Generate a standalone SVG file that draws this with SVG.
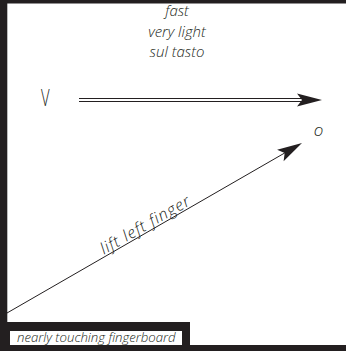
<svg xmlns="http://www.w3.org/2000/svg" width="346" height="351" viewBox="0 0 346 351">
<style>
.frame{fill:#231f20}
.t{font-family:"Open Sans","Liberation Sans",sans-serif;font-style:italic;font-weight:350;fill:#231f20}
.ln{stroke:#231f20;fill:none}
.hd{fill:#231f20}
</style>
<defs>
<path id="head" d="M0,0 L-25,-6.5 L-20,0 L-25,6.5 Z"/>
</defs>
<rect x="0" y="0" width="346" height="351" fill="#ffffff"/>
<g id="frame">
<rect class="frame" x="0" y="0" width="346" height="3.5"/>
<rect class="frame" x="0" y="0" width="7.3" height="351"/>
<rect class="frame" x="0" y="345" width="346" height="6"/>
<rect class="frame" x="0" y="322" width="190" height="29"/>
<rect x="10" y="331" width="172" height="14" fill="#ffffff"/>
</g>
<g id="tempo">
<text class="t" x="177" y="16" font-size="15" text-anchor="middle">fast</text>
<text class="t" x="177" y="36.5" font-size="15" text-anchor="middle">very light</text>
<text class="t" x="177" y="57" font-size="15" text-anchor="middle">sul tasto</text>
</g>
<g id="bowV">
<text x="0" y="0" font-family="'Open Sans','Liberation Sans',sans-serif" font-weight="300" font-size="24" fill="#231f20" transform="translate(41,105.5) scale(0.62,1)">V</text>
</g>
<g id="harmonic">
<text class="t" x="318.5" y="136" font-size="17" text-anchor="middle">o</text>
</g>
<g id="fingerboard-label">
<text class="t" x="17" y="342" font-size="13.2">nearly touching fingerboard</text>
</g>
<g id="connectors">
<path class="ln" stroke-width="1.2" d="M79,98.5 H302 M79,101.5 H302"/>
<use href="#head" class="hd" transform="translate(322,100)"/>
<path class="ln" stroke-width="1" d="M7,313 L285,152.8"/>
<use href="#head" class="hd" transform="translate(302,143) rotate(-30)"/>
<text class="t" font-size="16" letter-spacing="1" transform="translate(104,254.8) rotate(-30)">lift left finger</text>
</g>
</svg>
